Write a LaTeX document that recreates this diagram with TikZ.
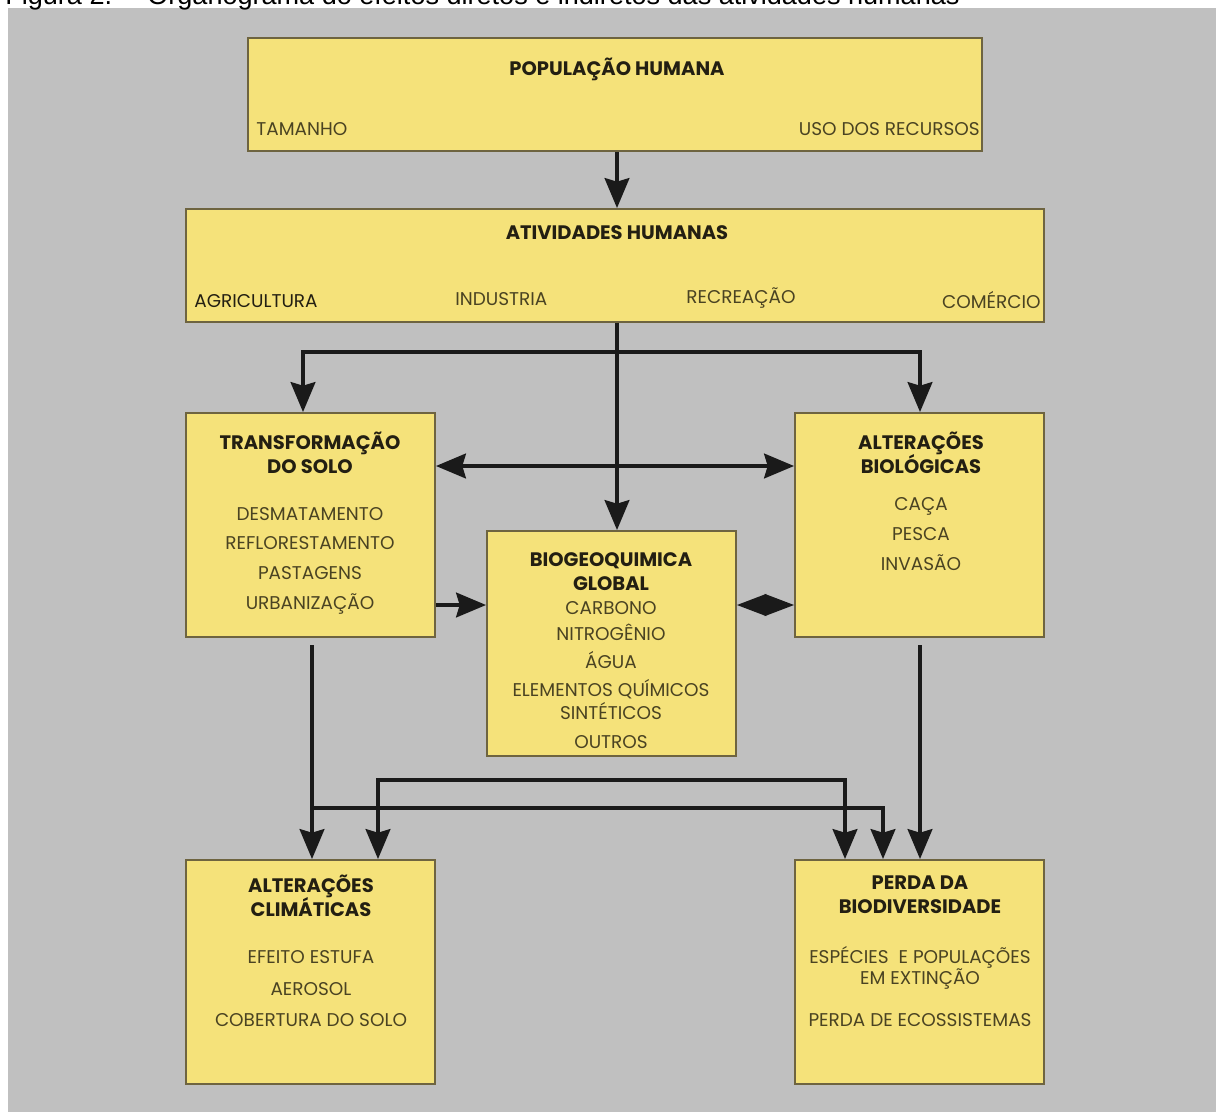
\documentclass[tikz,border=0pt]{standalone}
\usepackage{fontspec}
\usetikzlibrary{arrows.meta,calc}
\newfontfamily\gothic{Poppins}
\newfontfamily\capfont{Liberation Sans}
\definecolor{panel}{HTML}{C0C0C0}
\definecolor{boxfill}{HTML}{F5E27A}
\definecolor{boxline}{HTML}{6E6440}
\definecolor{titlecol}{HTML}{231F12}
\definecolor{itemcol}{HTML}{4A4322}
\definecolor{arrcol}{HTML}{1A1A1A}
\begin{document}
\begin{tikzpicture}[x=0.02cm,y=-0.02cm,
  box/.style={draw=boxline, line width=1.1pt, fill=boxfill, rectangle, inner sep=0pt},
  ttl/.style={font=\gothic\bfseries\fontsize{11.1}{13}\selectfont, text=titlecol, inner sep=0pt, anchor=base},
  itm/.style={font=\gothic\fontsize{10.5}{12}\selectfont, text=itemcol, inner sep=0pt, anchor=base},
  arr/.style={draw=arrcol, line width=2.3pt, -{Stealth[length=17pt,width=14pt,inset=2pt]}},
  arrtwo/.style={draw=arrcol, line width=2.3pt, {Stealth[length=17pt,width=14pt,inset=2pt]}-{Stealth[length=17pt,width=14pt,inset=2pt]}},
  dia/.style={draw=arrcol, line width=1pt, {Triangle[length=16.8pt,width=12.5pt]}-{Triangle[length=16.8pt,width=12.5pt]}},
  capt/.style={font=\capfont\fontsize{15.4}{18}\selectfont, inner sep=0pt, anchor=base west}]
\clip (0,0) rectangle (1216,1112);
\useasboundingbox (0,0) rectangle (1216,1112);
\fill[panel] (8,8) rectangle (1216,1112);
\node[capt] (cap1) at (5,5) {Figura 2.};
\node[capt] (cap2) at (147,5) {Organograma do efeitos diretos e indiretos das atividades humanas};

% boxes
\node[box, minimum width=14.68cm, minimum height=2.26cm] (pop) at (615,94.5) {};
\node[box, minimum width=17.16cm, minimum height=2.26cm] (ativ) at (615,265.5) {};
\node[box, minimum width=4.98cm, minimum height=4.48cm] (transf) at (310.5,525) {};
\node[box, minimum width=4.98cm, minimum height=4.48cm] (biol) at (919.5,525) {};
\node[box, minimum width=4.98cm, minimum height=4.5cm] (biogeo) at (611.5,643.5) {};
\node[box, minimum width=4.98cm, minimum height=4.48cm] (clim) at (310.5,972) {};
\node[box, minimum width=4.98cm, minimum height=4.48cm] (perda) at (919.5,972) {};

% texts
\node[ttl] (popt) at (617,75) {POPULAÇÃO HUMANA};
\node[itm, anchor=base west] (popa) at (256,135) {TAMANHO};
\node[itm, anchor=base east] (popb) at (980,135) {USO DOS RECURSOS};

\node[ttl] (ativt) at (617,239) {ATIVIDADES HUMANAS};
\node[itm, anchor=base west, text=titlecol] (ativa) at (194,307) {AGRICULTURA};
\node[itm, anchor=base west] (ativb) at (455,305) {INDUSTRIA};
\node[itm, anchor=base west] (ativc) at (686,303) {RECREAÇÃO};
\node[itm, anchor=base east] (ativd) at (1041,308) {COMÉRCIO};

\node[ttl] (trt1) at (310,449) {TRANSFORMAÇÃO};
\node[ttl] (trt2) at (310,473) {DO SOLO};
\node[itm] (tra) at (310,520) {DESMATAMENTO};
\node[itm] (trb) at (310,549) {REFLORESTAMENTO};
\node[itm] (trc) at (310,579) {PASTAGENS};
\node[itm] (trd) at (310,609) {URBANIZAÇÃO};

\node[ttl] (bit1) at (921,449) {ALTERAÇÕES};
\node[ttl] (bit2) at (921,473) {BIOLÓGICAS};
\node[itm] (bia) at (921,510) {CAÇA};
\node[itm] (bib) at (921,540) {PESCA};
\node[itm] (bic) at (921,570) {INVASÃO};

\node[ttl] (bgt1) at (611,566) {BIOGEOQUIMICA};
\node[ttl] (bgt2) at (611,590) {GLOBAL};
\node[itm] (bga) at (611,614) {CARBONO};
\node[itm] (bgb) at (611,640) {NITROGÊNIO};
\node[itm] (bgc) at (611,668) {ÁGUA};
\node[itm] (bgd) at (611,696) {ELEMENTOS QUÍMICOS};
\node[itm] (bge) at (611,719) {SINTÉTICOS};
\node[itm] (bgf) at (611,748) {OUTROS};

\node[ttl] (clt1) at (311,892) {ALTERAÇÕES};
\node[ttl] (clt2) at (311,916) {CLIMÁTICAS};
\node[itm] (cla) at (311,963) {EFEITO ESTUFA};
\node[itm] (clb) at (311,995) {AEROSOL};
\node[itm] (clc) at (311,1026) {COBERTURA DO SOLO};

\node[ttl] (pet1) at (920,889) {PERDA DA};
\node[ttl] (pet2) at (920,913) {BIODIVERSIDADE};
\node[itm] (pea) at (920,963) {ESPÉCIES\ \ E POPULAÇÕES};
\node[itm] (peb) at (920,984) {EM EXTINÇÃO};
\node[itm] (pec) at (920,1026) {PERDA DE ECOSSISTEMAS};

% helper coordinates
\coordinate (xa) at (617,0);
\coordinate (xt) at (303,0);
\coordinate (xb) at (920,0);
\coordinate (ysplit) at (0,352);
\coordinate (xc) at (312,0);
\coordinate (xd) at (378,0);
\coordinate (xe) at (845,0);
\coordinate (xf) at (883,0);
\coordinate (yg) at (0,780);
\coordinate (yh) at (0,808);
\coordinate (yi) at (0,466);
\coordinate (yj) at (0,605);
\coordinate (yk) at (0,645);

% connectors
\draw[arr] (pop.south -| xa) -- (ativ.north -| xa);
\draw[arr] (ativ.south -| xa) -- (biogeo.north -| xa);
\draw[arr] (xa |- ysplit) -| (transf.north -| xt);
\draw[arr] (xa |- ysplit) -| (biol.north -| xb);
\draw[arrtwo] (transf.east |- yi) -- (biol.west |- yi);
\draw[arr] (transf.east |- yj) -- (biogeo.west |- yj);
\draw[dia] (biogeo.east |- yj) -- (biol.west |- yj);
\draw[arr] (xc |- yk) -- (clim.north -| xc);
\draw[arr] (xc |- yh) -| (perda.north -| xf);
\draw[arrtwo] (clim.north -| xd) |- (xd |- yg) -| (perda.north -| xe);
\draw[arr] (xb |- yk) -- (perda.north -| xb);
\end{tikzpicture}
\end{document}
